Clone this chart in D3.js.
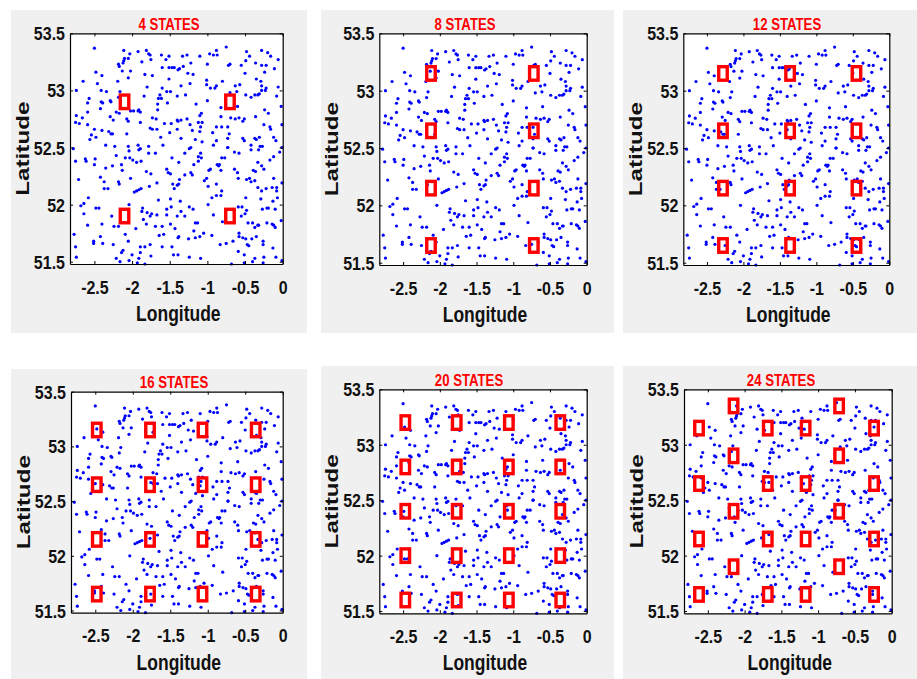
<!DOCTYPE html>
<html lang="en">
<head>
<meta charset="utf-8">
<title>States</title>
<script src="https://cdn.jsdelivr.net/npm/d3@7/dist/d3.min.js"></script>
<style>
  body { margin: 0; background: #fff; }
  svg text { font-family: "Liberation Sans", Arial, sans-serif; font-weight: bold; }
  .axis path, .axis line { stroke: #000; }
</style>
</head>
<body>
<svg id="chart" width="917" height="679"></svg>
<script>
// ---- data ----
var titles = ["4 STATES", "8 STATES", "12 STATES", "16 STATES", "20 STATES", "24 STATES"];
var xTicks = [-2.5, -2, -1.5, -1, -0.5, 0];
var xTickLabels = ["-2.5", "-2", "-1.5", "-1", "-0.5", "0"];
var yTicks = [51.5, 52, 52.5, 53, 53.5];
var yTickLabels = ["51.5", "52", "52.5", "53", "53.5"];
var lonRange = [-2.824, 0];
var latRange = [51.48, 53.5];

var states4 = [[-2.1,52.9],[-0.7,52.9],[-2.1,51.9],[-0.7,51.9]];
var states8 = [[-2.12,53.15],[-0.72,53.15],[-2.12,52.65],[-0.72,52.65],
               [-2.12,52.15],[-0.72,52.15],[-2.12,51.65],[-0.72,51.65]];
var states12 = [[-2.28,53.15],[-1.36,53.15],[-0.45,53.15],[-2.28,52.65],[-1.36,52.65],[-0.45,52.65],
                [-2.28,52.15],[-1.36,52.15],[-0.45,52.15],[-2.28,51.65],[-1.36,51.65],[-0.45,51.65]];
var states16 = [[-2.48,53.15],[-1.77,53.15],[-1.07,53.15],[-0.36,53.15],
                [-2.48,52.65],[-1.77,52.65],[-1.07,52.65],[-0.36,52.65],
                [-2.48,52.15],[-1.77,52.15],[-1.07,52.15],[-0.36,52.15],
                [-2.48,51.65],[-1.77,51.65],[-1.07,51.65],[-0.36,51.65]];
var states20 = [[-2.47,53.2],[-1.77,53.2],[-1.06,53.2],[-0.36,53.2],
                [-2.47,52.8],[-1.77,52.8],[-1.06,52.8],[-0.36,52.8],
                [-2.47,52.4],[-1.77,52.4],[-1.06,52.4],[-0.36,52.4],
                [-2.47,52.0],[-1.77,52.0],[-1.06,52.0],[-0.36,52.0],
                [-2.47,51.6],[-1.77,51.6],[-1.06,51.6],[-0.36,51.6]];
var states24 = [[-2.62,53.15],[-1.685,53.15],[-1.17,53.15],[-0.24,53.15],
                [-2.62,52.65],[-1.685,52.65],[-1.17,52.65],[-0.24,52.65],
                [-2.62,52.15],[-1.685,52.15],[-1.17,52.15],[-0.24,52.15],
                [-2.62,51.65],[-1.685,51.65],[-1.17,51.65],[-0.24,51.65],
                [-2.15,53.35],[-0.715,53.35],[-2.15,52.9],[-0.715,52.9],
                [-2.15,52.4],[-0.715,52.4],[-2.15,51.9],[-0.715,51.9]];
var stateSets = [states4, states8, states12, states16, states20, states24];

// sensor locations [lon, lat], same in every panel
var dots = [
  [-2.50,53.37],[-2.11,53.35],[-2.03,53.32],[-1.92,53.34],[-1.81,53.35],[-1.78,53.32],[-1.76,53.31],[-1.61,53.31],
  [-1.51,53.30],[-2.10,53.28],[-2.05,53.28],[-2.18,53.23],[-2.12,53.24],[-2.11,53.26],[-1.75,53.27],[-1.87,53.25],
  [-1.55,53.27],[-2.17,53.21],[-2.13,53.17],[-2.02,53.17],[-1.83,53.14],[-1.73,53.13],[-1.60,53.20],[-1.51,53.20],
  [-1.47,53.20],[-1.44,53.20],[-1.37,53.19],[-2.48,53.16],[-2.40,53.13],[-2.65,53.08],[-2.46,53.06],[-2.19,53.08],
  [-2.05,53.11],[-1.51,53.10],[-1.80,53.03],[-1.60,53.02],[-2.74,53.00],[-2.41,53.00],[-2.34,52.99],[-2.16,52.99],
  [-1.54,52.99],[-1.49,52.99],[-1.63,52.96],[-1.40,52.95],[-2.57,52.93],[-2.59,52.89],[-2.41,52.90],[-2.39,52.89],
  [-2.29,52.91],[-2.28,52.90],[-2.18,52.94],[-1.84,52.95],[-1.65,52.93],[-1.61,52.93],[-1.53,52.89],[-1.66,52.88],
  [-2.42,52.84],[-2.59,52.81],[-2.21,52.81],[-2.02,52.82],[-1.98,52.82],[-1.92,52.82],[-1.91,52.83],[-1.89,52.81],
  [-1.66,52.83],[-2.74,52.78],[-2.66,52.76],[-2.29,52.77],[-2.17,52.80],[-2.25,52.74],[-2.07,52.75],[-2.05,52.73],
  [-1.89,52.72],[-1.73,52.76],[-1.68,52.75],[-2.75,52.72],[-2.70,52.71],[-2.59,52.70],[-1.57,52.71],[-1.48,52.71],
  [-1.39,52.73],[-2.50,52.66],[-2.40,52.65],[-2.31,52.64],[-2.28,52.62],[-2.26,52.62],[-2.07,52.62],[-1.76,52.67],
  [-1.73,52.66],[-1.67,52.66],[-1.40,52.66],[-1.50,52.63],[-2.54,52.61],[-2.56,52.57],[-2.48,52.59],[-1.62,52.59],
  [-2.35,52.52],[-2.23,52.51],[-2.05,52.51],[-1.92,52.52],[-1.78,52.51],[-1.59,52.52],

  [-0.75,53.38],[-0.88,53.35],[-0.92,53.31],[-0.87,53.31],[-0.97,53.32],[-1.10,53.30],[-1.33,53.30],[-1.27,53.31],
  [-1.32,53.21],[-1.22,53.24],[-1.39,53.18],[-1.26,53.15],[-1.19,53.14],[-1.00,53.23],[-0.72,53.22],[-0.70,53.23],
  [-0.55,53.22],[-0.48,53.34],[-0.49,53.26],[-0.44,53.30],[-0.36,53.24],[-0.28,53.35],[-0.20,53.33],[-0.16,53.30],
  [-0.06,53.27],[-0.28,53.22],[-0.22,53.22],[-0.11,53.19],[-0.24,53.16],[-0.50,53.15],[-0.35,53.10],[-0.29,53.08],
  [-0.28,53.04],[-0.28,53.00],[-0.22,53.02],[-0.23,53.00],[-0.06,53.03],[-1.35,53.04],[-1.23,53.06],[-1.01,53.09],
  [-1.01,53.05],[-0.96,53.02],[-0.90,53.02],[-0.88,53.04],[-0.80,53.08],[-0.70,52.98],[-0.63,53.04],[-0.57,53.05],
  [-0.61,52.99],[-0.49,52.96],[-0.42,52.94],[-0.37,52.96],[-0.33,52.96],[-0.31,52.97],[-0.08,52.95],[-1.29,52.96],
  [-1.00,52.91],[-1.15,52.88],[-0.82,52.85],[-0.60,52.86],[-0.24,52.83],[-0.19,52.80],[-0.02,52.86],[-1.08,52.80],
  [-1.10,52.78],[-1.27,52.75],[-1.35,52.74],[-1.40,52.74],[-1.23,52.70],[-1.12,52.72],[-1.07,52.72],[-1.09,52.68],
  [-1.10,52.64],[-0.82,52.77],[-0.69,52.76],[-0.63,52.75],[-0.58,52.76],[-0.51,52.75],[-0.53,52.73],[-0.36,52.77],
  [-0.25,52.70],[-0.17,52.68],[-0.16,52.66],[-0.01,52.70],[-0.73,52.68],[-0.81,52.68],[-0.88,52.68],[-1.20,52.65],
  [-0.93,52.63],[-1.35,52.58],[-1.16,52.57],[-1.07,52.55],[-0.88,52.56],[-0.92,52.52],[-0.73,52.58],[-0.71,52.62],
  [-0.53,52.58],[-0.51,52.56],[-0.37,52.58],[-0.35,52.57],[-0.31,52.59],[-0.12,52.59],[-0.09,52.56],[-0.42,52.52],
  [-0.27,52.51],[-0.73,52.50],[-1.22,52.50],[-0.01,52.50],

  [-2.78,52.49],[-2.75,52.38],[-2.62,52.40],[-2.61,52.38],[-2.49,52.40],[-2.50,52.35],[-2.21,52.43],[-2.09,52.41],
  [-2.04,52.47],[-2.03,52.41],[-1.99,52.39],[-1.94,52.37],[-1.91,52.48],[-1.89,52.49],[-1.88,52.38],[-1.78,52.45],
  [-1.69,52.45],[-1.47,52.41],[-1.38,52.37],[-2.14,52.35],[-2.13,52.30],[-2.26,52.34],[-2.35,52.32],[-1.81,52.29],
  [-1.75,52.27],[-1.54,52.31],[-1.52,52.28],[-1.49,52.27],[-2.71,52.22],[-2.42,52.24],[-2.37,52.20],[-2.37,52.14],
  [-2.32,52.14],[-2.18,52.20],[-2.17,52.18],[-2.02,52.23],[-1.97,52.11],[-1.94,52.12],[-1.91,52.13],[-1.88,52.14],
  [-1.77,52.16],[-1.67,52.19],[-1.46,52.18],[-1.40,52.17],[-1.38,52.18],[-1.44,52.14],[-1.65,52.04],[-1.49,52.05],
  [-2.58,52.06],[-2.64,52.01],[-2.68,51.99],[-2.48,51.97],[-2.44,51.97],[-2.64,51.92],[-2.59,51.82],[-2.27,51.90],
  [-2.04,52.00],[-1.86,51.97],[-1.87,51.94],[-1.80,51.93],[-1.76,51.90],[-1.74,51.92],[-1.85,51.87],[-1.81,51.83],
  [-1.67,51.91],[-1.54,51.96],[-1.48,51.98],[-1.40,51.90],[-1.54,51.91],[-2.40,51.83],[-2.24,51.81],[-2.18,51.81],
  [-1.95,51.79],[-1.69,51.81],[-1.60,51.81],[-1.49,51.83],[-1.64,51.73],[-1.58,51.74],[-1.43,51.79],[-1.39,51.71],
  [-2.77,51.74],[-2.42,51.72],[-2.51,51.68],[-2.51,51.66],[-2.39,51.66],[-2.09,51.74],[-2.05,51.68],[-1.89,51.63],
  [-1.89,51.58],[-1.83,51.63],[-1.76,51.65],[-2.75,51.63],[-2.25,51.65],[-2.12,51.60],[-2.14,51.58],[-2.00,51.56],
  [-1.91,51.53],[-1.75,51.55],[-1.60,51.63],[-1.47,51.63],[-1.45,51.56],[-1.39,51.56],[-2.74,51.54],[-2.21,51.53],
  [-2.16,51.50],[-2.04,51.51],[-1.93,51.49],[-1.83,51.48],

  [-1.24,52.49],[-1.30,52.45],[-1.12,52.42],[-1.09,52.45],[-1.12,52.38],[-1.08,52.41],[-1.18,52.35],[-0.98,52.30],
  [-1.01,52.23],[-0.96,52.31],[-0.87,52.35],[-0.84,52.35],[-0.82,52.30],[-0.77,52.41],[-0.81,52.41],[-0.85,52.34],
  [-0.73,52.50],[-0.64,52.46],[-0.58,52.45],[-0.42,52.48],[-0.32,52.48],[-0.30,52.51],[-0.33,52.37],[-0.39,52.30],
  [-0.36,52.29],[-0.28,52.34],[-0.25,52.31],[-0.17,52.39],[-0.12,52.42],[-0.04,52.46],[-1.22,52.28],[-1.37,52.22],
  [-1.30,52.26],[-1.20,52.26],[-1.04,52.21],[-0.88,52.18],[-0.99,52.16],[-0.64,52.31],[-0.60,52.28],[-0.59,52.23],
  [-0.48,52.22],[-0.44,52.23],[-0.42,52.20],[-0.37,52.21],[-0.12,52.23],[-0.01,52.19],[-0.28,52.12],[-0.22,52.14],
  [-0.33,52.15],[-0.14,52.15],[-0.08,52.15],[-0.08,52.12],[-1.36,52.03],[-1.24,51.98],[-1.19,51.96],[-0.99,52.00],
  [-0.94,52.06],[-0.88,52.08],[-0.82,52.08],[-0.81,52.12],[-0.49,52.06],[-0.29,52.05],[-0.13,52.03],[-0.07,52.06],
  [-1.35,51.94],[-1.30,51.90],[-0.92,51.91],[-0.80,51.85],[-0.59,51.98],[-0.54,51.98],[-0.48,51.95],[-0.50,51.92],
  [-0.55,51.90],[-0.21,51.97],[-0.19,51.97],[-0.27,51.96],[-0.10,51.96],[-0.02,51.86],[-1.16,51.84],[-1.13,51.84],
  [-1.18,51.77],[-1.25,51.70],[-1.16,51.71],[-1.10,51.72],[-1.05,51.75],[-0.94,51.73],[-1.38,51.72],[-0.58,51.75],
  [-0.58,51.72],[-0.53,51.71],[-0.49,51.70],[-0.46,51.84],[-0.40,51.84],[-0.33,51.82],[-0.37,51.80],[-0.32,51.82],
  [-0.21,51.84],[-0.14,51.83],[-0.12,51.82],[-0.10,51.80],[-0.83,51.65],[-0.75,51.66],[-0.66,51.68],[-0.59,51.59],
  [-0.51,51.56],[-0.47,51.65],[-0.45,51.64],[-0.41,51.70],[-0.35,51.72],[-0.26,51.68],[-0.26,51.65],[-0.13,51.62],
  [-1.24,51.54],[-1.09,51.53],[-0.68,51.48],[-0.51,51.49],[-0.40,51.50],[-0.37,51.53],[-0.26,51.49],[-0.25,51.54],
  [-0.09,51.54],[-0.01,51.51]
];

// ---- layout (pixels) ----
var panels = [
  { gx: 11,  gy: 10,  gw: 296, gh: 323, L: 70,    T: 33.3,  R: 282.7, B: 264,   tx: 169 },
  { gx: 321, gy: 10,  gw: 293, gh: 323, L: 379.3, T: 33.3,  R: 586.7, B: 265,   tx: 465 },
  { gx: 623, gy: 10,  gw: 294, gh: 323, L: 683.3, T: 33.3,  R: 889.3, B: 265,   tx: 787 },
  { gx: 11,  gy: 369, gw: 296, gh: 310, L: 71,    T: 391.7, R: 282.7, B: 612.7, tx: 174 },
  { gx: 321, gy: 366, gw: 293, gh: 313, L: 379.3, T: 389.3, R: 586.7, B: 613.3, tx: 469 },
  { gx: 623, gy: 366, gw: 294, gh: 313, L: 684,   T: 389.3, R: 891.7, B: 613.3, tx: 781 }
];

var svg = d3.select("#chart");

panels.forEach(function(p, i) {
  var g = svg.append("g");

  g.append("rect")
    .attr("x", p.gx).attr("y", p.gy)
    .attr("width", p.gw).attr("height", p.gh)
    .attr("fill", "#f0f0f0");

  var x = d3.scaleLinear().domain(lonRange).range([p.L, p.R]);
  var y = d3.scaleLinear().domain(latRange).range([p.B, p.T]);

  g.append("rect")
    .attr("x", p.L).attr("y", p.T)
    .attr("width", p.R - p.L).attr("height", p.B - p.T)
    .attr("fill", "#fff");

  // dots
  g.append("g").selectAll("circle")
    .data(dots)
    .enter().append("circle")
    .attr("cx", function(d) { return x(d[0]); })
    .attr("cy", function(d) { return y(d[1]); })
    .attr("r", 1.6)
    .attr("fill", "#0000ff");

  // states
  g.append("g").selectAll("rect")
    .data(stateSets[i])
    .enter().append("rect")
    .attr("x", function(d) { return x(d[0]) - 4.25; })
    .attr("y", function(d) { return y(d[1]) - 6.75; })
    .attr("width", 8.5).attr("height", 13.5)
    .attr("fill", "none")
    .attr("stroke", "#ff0000")
    .attr("stroke-width", 3.4);

  // axes (ticks point inward, box on)
  var bottom = g.append("g").attr("class", "axis")
    .attr("transform", "translate(0," + p.B + ")")
    .call(d3.axisBottom(x).tickValues(xTicks).tickSizeInner(-3).tickSizeOuter(0)
      .tickFormat(function(d, k) { return xTickLabels[k]; }));
  bottom.selectAll(".tick text")
    .attr("y", null).attr("dy", null)
    .attr("fill", "#111")
    .style("font-size", "16px")
    .attr("transform", "translate(0,29.5) scale(1,1.15)");

  var left = g.append("g").attr("class", "axis")
    .attr("transform", "translate(" + p.L + ",0)")
    .call(d3.axisLeft(y).tickValues(yTicks).tickSizeInner(-3).tickSizeOuter(0)
      .tickFormat(function(d, k) { return yTickLabels[k]; }));
  left.selectAll(".tick text")
    .attr("x", null).attr("dy", null)
    .attr("fill", "#111")
    .style("font-size", "16px")
    .attr("transform", "translate(-5,6.5) scale(1,1.15)");

  g.append("g").attr("class", "axis")
    .attr("transform", "translate(0," + p.T + ")")
    .call(d3.axisTop(x).tickValues(xTicks).tickSizeInner(-3).tickSizeOuter(0).tickFormat(""));
  g.append("g").attr("class", "axis")
    .attr("transform", "translate(" + p.R + ",0)")
    .call(d3.axisRight(y).tickValues(yTicks).tickSizeInner(-3).tickSizeOuter(0).tickFormat(""));

  g.selectAll(".axis path").attr("stroke-width", 1.2);

  // title
  g.append("text")
    .attr("transform", "translate(" + p.tx + "," + (p.T - 3.5) + ") scale(1,1.3)")
    .attr("text-anchor", "middle")
    .attr("fill", "#ff0000")
    .style("font-size", "13.2px")
    .text(titles[i]);

  // axis labels
  g.append("text")
    .attr("transform", "translate(" + ((p.L + p.R) / 2 + 2) + "," + (p.B + 57) + ") scale(1,1.3)")
    .attr("text-anchor", "middle")
    .attr("fill", "#111")
    .style("font-size", "17.5px")
    .text("Longitude");

  g.append("text")
    .attr("transform", "translate(" + (p.L - 41) + "," + ((p.T + p.B) / 2) + ") rotate(-90) scale(1.37,1)")
    .attr("text-anchor", "middle")
    .attr("fill", "#111")
    .style("font-size", "17.7px")
    .text("Latitude");
});
</script>
</body>
</html>
